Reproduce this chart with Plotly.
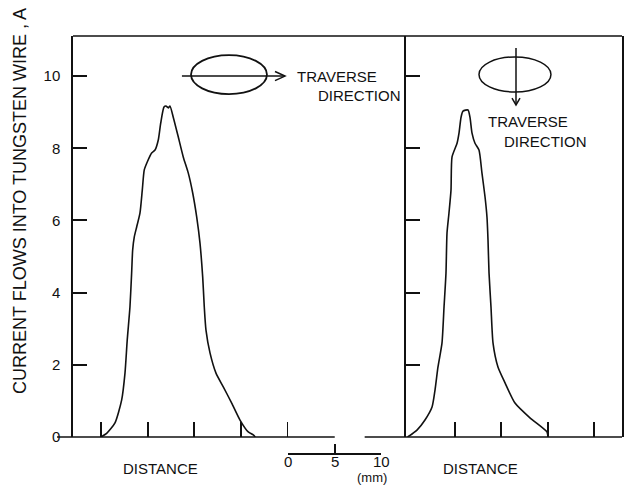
import plotly.graph_objects as go

# Current collected by the tungsten wire while traversing the plasma cross-section
# Left: traverse along the long axis of the ellipse; right: along the short axis.
dist_long = [0.0, 0.61, 1.50, 2.21, 2.57, 2.81, 3.10, 3.28, 3.39, 3.56, 3.82, 4.17,
             4.42, 4.63, 4.95, 5.42, 5.78, 6.13, 6.39, 6.74, 6.95, 7.20, 7.38, 7.73,
             8.27, 8.80, 9.34, 9.81, 10.24, 10.59, 10.88, 11.05, 11.23, 11.66, 12.30,
             13.08, 13.98, 14.87, 15.75, 16.29, 16.50]
cur_long = [0.0, 0.10, 0.39, 1.02, 1.77, 2.69, 3.60, 4.54, 5.18, 5.54, 5.82, 6.20,
            6.84, 7.40, 7.62, 7.87, 7.95, 8.23, 8.70, 9.14, 9.17, 9.12, 9.17, 8.86,
            8.31, 7.76, 7.31, 6.76, 6.09, 5.37, 4.43, 3.60, 2.96, 2.33, 1.77,
            1.39, 0.94, 0.47, 0.14, 0.06, 0.0]

dist_short = [-5.10, -4.09, -3.23, -2.47, -2.15, -1.83, -1.40, -1.18, -0.97, -0.86,
              -0.65, -0.43, -0.32, 0.22, 0.43, 0.65, 0.86, 1.40, 1.61, 1.83, 2.15,
              2.58, 2.90, 3.23, 3.44, 3.55, 3.66, 3.87, 4.09, 4.62, 5.38, 6.45,
              8.06, 9.89, 10.00]
cur_short = [0.0, 0.19, 0.47, 0.83, 1.30, 1.94, 2.60, 3.60, 4.54, 5.65,
             6.20, 6.84, 7.76, 8.14, 8.42, 8.86, 9.03, 9.06, 8.86, 8.42, 8.14,
             7.95, 7.31, 6.65, 6.09, 5.46, 4.54, 3.60, 2.60, 1.94, 1.50, 0.94,
             0.53, 0.14, 0.0]

y_ticks = [0, 2, 4, 6, 8, 10]
x_ticks_long = [0, 5, 10, 15, 20]
x_ticks_short = [0, 5, 10, 15]
scale_ticks = [0, 5, 10]
scale_labels = ["0", "5", "10"]

INK = "#111111"
FONT = "Liberation Sans, Arial, sans-serif"

W, H = 628, 485
MARGIN = dict(l=73, r=6, t=36, b=20, autoexpand=False)
XL_RANGE = [-2.99, 32.62]
XR_RANGE = [-5.27, 17.96]
Y_RANGE = [0, 11.11]
SPLIT = 333 / 549
Y_DOM0 = 28 / 429
SCALE_START = 20  # scale bar starts under the 20 mm tick of the left panel
SCALE_Y = 11 / 429


def paper_xl(v):
    return SPLIT * (v - XL_RANGE[0]) / (XL_RANGE[1] - XL_RANGE[0])


fig = go.Figure()
curve = dict(color=INK, width=1.6, shape="spline", smoothing=0.6)
fig.add_trace(go.Scatter(x=dist_long, y=cur_long, mode="lines", line=curve,
                         xaxis="x", yaxis="y", hoverinfo="skip"))
fig.add_trace(go.Scatter(x=dist_short, y=cur_short, mode="lines", line=curve,
                         xaxis="x2", yaxis="y2", hoverinfo="skip"))
# placeholder so the millimetre scale axis gets drawn
fig.add_trace(go.Scatter(x=[0, 10], y=[-1, -1], mode="markers",
                         marker=dict(opacity=0), xaxis="x3", yaxis="y",
                         hoverinfo="skip"))

common_x = dict(showgrid=False, zeroline=False, showline=False, ticks="inside",
                ticklen=15, tickwidth=1.5, tickcolor=INK, showticklabels=False,
                automargin=False, fixedrange=True)
common_y = dict(range=Y_RANGE, domain=[Y_DOM0, 1], showgrid=False, zeroline=False,
                showline=True, linecolor=INK, linewidth=1.5,
                ticks="inside", ticklen=14, tickwidth=1.5, tickcolor=INK,
                tickvals=y_ticks, automargin=False, fixedrange=True)

fig.update_layout(
    template="none",
    width=W, height=H, margin=MARGIN, showlegend=False,
    paper_bgcolor="white", plot_bgcolor="white",
    font=dict(family=FONT, color=INK, size=15),
    xaxis=dict(common_x, domain=[0, SPLIT], range=XL_RANGE, tickvals=x_ticks_long,
               anchor="y"),
    xaxis2=dict(common_x, domain=[SPLIT, 1], range=XR_RANGE, tickvals=x_ticks_short,
                anchor="y2"),
    xaxis3=dict(domain=[paper_xl(SCALE_START), paper_xl(SCALE_START + 10)],
                range=[0, 10], anchor="free", position=SCALE_Y,
                tickvals=scale_ticks, ticks="inside", showticklabels=False,
                ticklen=9, tickwidth=1.5, tickcolor=INK, showline=True,
                linecolor=INK, linewidth=1.5, showgrid=False, zeroline=False,
                automargin=False, fixedrange=True),
    yaxis=dict(common_y, anchor="x", mirror=False, ticklabelstandoff=8,
               tickfont=dict(size=15, color=INK)),
    yaxis2=dict(common_y, anchor="x2", mirror=True, matches="y",
                showticklabels=False),
)

line = dict(color=INK, width=1.5)
shapes = [
    # top frame
    dict(type="line", xref="paper", yref="paper", x0=0, x1=1, y0=1, y1=1, line=line),
    # zero baseline (broken under the scale bar)
    dict(type="line", xref="paper", yref="paper", x0=paper_xl(-4.7), x1=paper_xl(25.0),
         y0=Y_DOM0, y1=Y_DOM0, line=line),
    dict(type="line", xref="paper", yref="paper", x0=paper_xl(28.2), x1=1,
         y0=Y_DOM0, y1=Y_DOM0, line=line),
    # cross-section sketch, long-axis traverse
    dict(type="circle", xref="x", yref="y", x0=9.63, x1=17.75, y0=9.50, y1=10.58,
         line=dict(color=INK, width=1.8)),
    dict(type="line", xref="x", yref="y", x0=8.66, x1=19.68, y0=10.0, y1=10.0, line=line),
    dict(type="path", xref="x", yref="y",
         path="M 18.61,10.125 L 19.68,10.0 L 18.61,9.875", line=line),
    # cross-section sketch, short-axis traverse
    dict(type="circle", xref="x2", yref="y2", x0=2.58, x1=10.32, y0=9.56, y1=10.53,
         line=dict(color=INK, width=1.5)),
    dict(type="line", xref="x2", yref="y2", x0=6.56, x1=6.56, y0=10.78, y1=9.20, line=line),
    dict(type="path", xref="x2", yref="y2",
         path="M 6.13,9.39 L 6.56,9.20 L 6.99,9.39", line=line),
]
fig.update_layout(shapes=shapes)

txt = dict(family=FONT, size=15, color=INK)
annotations = [
    dict(text="TRAVERSE", xref="x", yref="y", x=20.8, y=10.0, xanchor="left",
         yanchor="middle", showarrow=False, font=txt),
    dict(text="DIRECTION", xref="x", yref="y", x=23.0, y=9.47, xanchor="left",
         yanchor="middle", showarrow=False, font=txt),
    dict(text="TRAVERSE", xref="x2", yref="y2", x=3.3, y=8.73, xanchor="left",
         yanchor="middle", showarrow=False, font=txt),
    dict(text="DIRECTION", xref="x2", yref="y2", x=5.1, y=8.2, xanchor="left",
         yanchor="middle", showarrow=False, font=txt),
    dict(text="DISTANCE", xref="x", yref="paper", x=6.4, y=-3 / 429,
         xanchor="center", yanchor="middle", showarrow=False, font=txt),
    dict(text="DISTANCE", xref="x2", yref="paper", x=2.7, y=-3 / 429,
         xanchor="center", yanchor="middle", showarrow=False, font=txt),
    dict(text="(mm)", xref="x3", yref="paper", x=9.0, y=-12.5 / 429,
         xanchor="center", yanchor="middle", showarrow=False, borderpad=0,
         font=dict(family=FONT, size=13, color=INK)),
    dict(text="CURRENT FLOWS INTO TUNGSTEN WIRE , A", xref="paper", yref="paper",
         x=-53 / 549, y=(465 - 201) / 429, xanchor="center", yanchor="middle",
         textangle=-90, showarrow=False, font=dict(family=FONT, size=18, color=INK)),
]
# numbers of the millimetre scale bar, just under its ticks
for v, lab in zip(scale_ticks, scale_labels):
    annotations.append(dict(text=lab, xref="x3", yref="paper", x=v, y=SCALE_Y,
                            xanchor="center", yanchor="top", yshift=2, borderpad=0,
                            showarrow=False, font=txt))
fig.update_layout(annotations=annotations)

fig.write_html("out.html")
